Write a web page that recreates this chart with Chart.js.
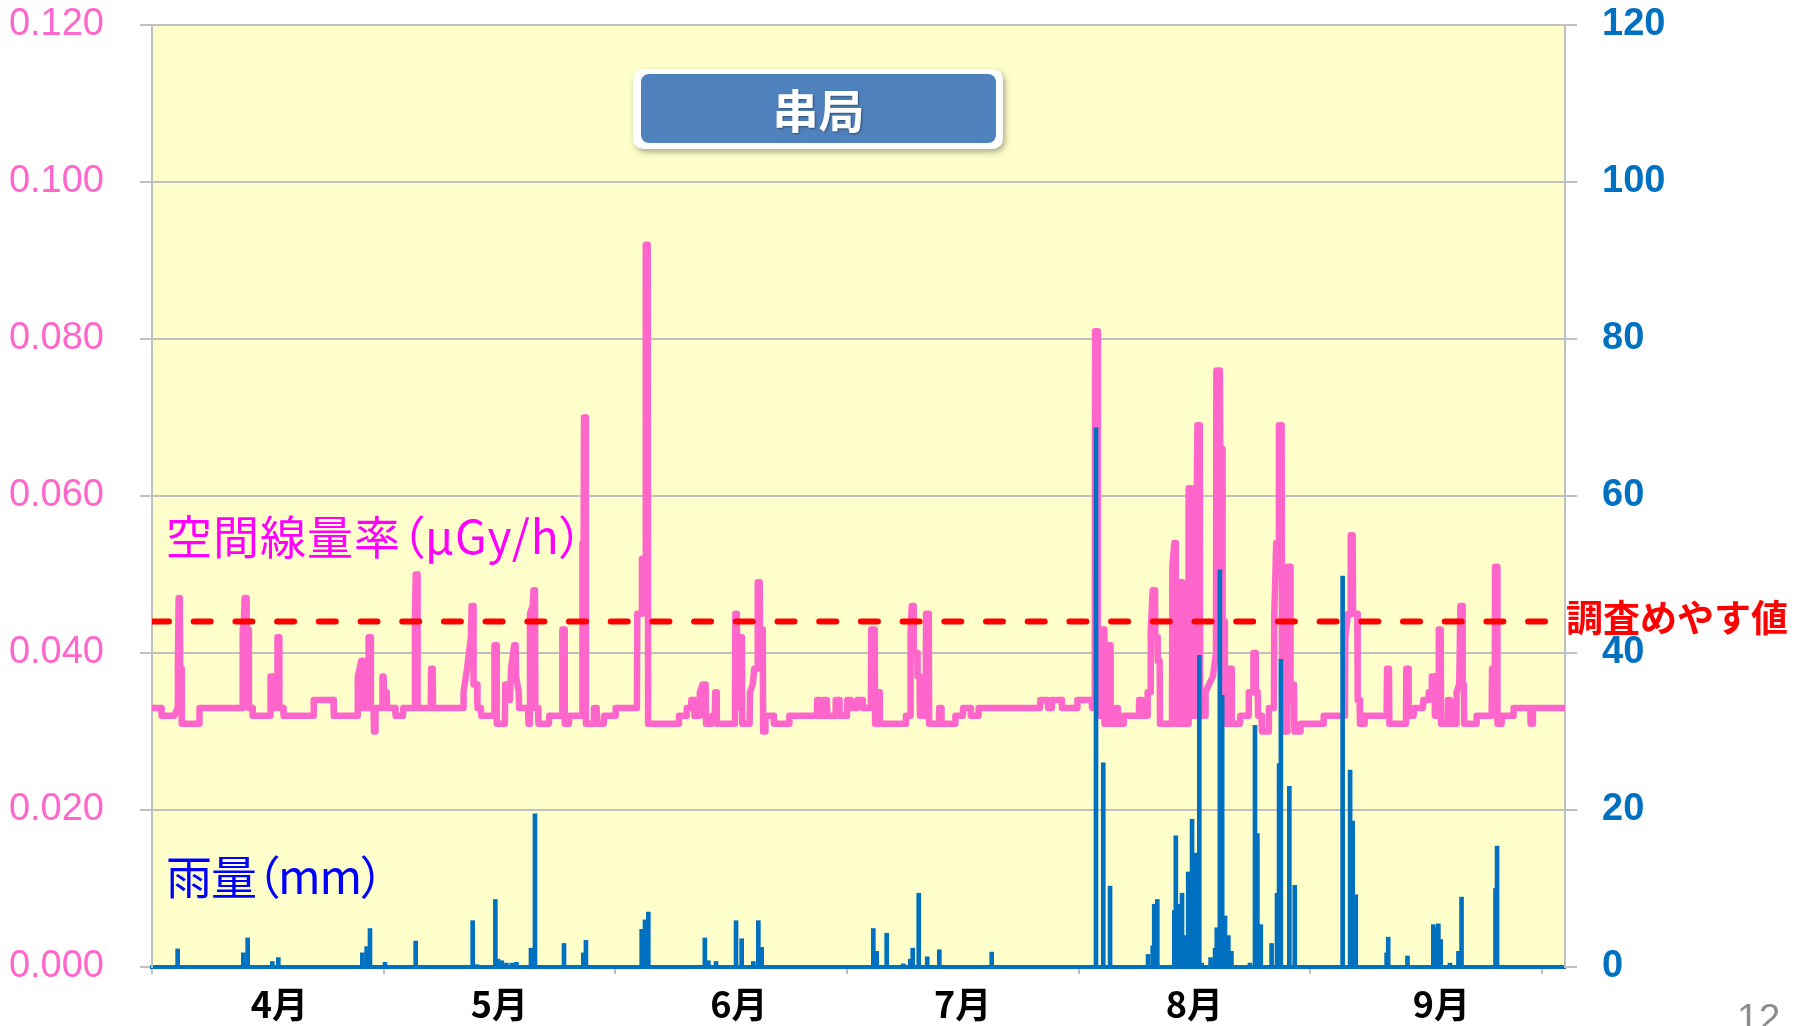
<!DOCTYPE html>
<html>
<head>
<meta charset="utf-8">
<script src="https://cdn.jsdelivr.net/npm/chart.js@4.4.1/dist/chart.umd.min.js"></script>
<style>
  html, body { margin: 0; padding: 0; background: #fff; }
  #wrap { position: relative; width: 1796px; height: 1026px; overflow: hidden; }
  #chart { position: absolute; left: 0; top: 0; }
  .lbl { position: absolute; white-space: nowrap; line-height: 1; font-family: "Noto Sans CJK JP", sans-serif; }
  #titleOuter { position: absolute; left: 633px; top: 69px; width: 370px; height: 80px; background: #fff;
    border-radius: 10px; box-shadow: 2px 3px 6px rgba(0,0,0,0.35); }
  #titleInner { position: absolute; left: 641px; top: 74px; width: 355px; height: 69px; background: #4f81bd;
    border-radius: 8px; color: #fff; font: bold 46px "Noto Sans CJK JP", sans-serif; line-height: 69px; text-align: center;
    text-shadow: 1px 1px 2px rgba(0,0,0,0.4); }
</style>
</head>
<body>
<div id="wrap">
  <canvas id="chart" width="1796" height="1026"></canvas>
  <div id="titleOuter"></div>
  <div id="titleInner">串局</div>
  <div class="lbl" style="left:166px; top:511px; font-size:46px; letter-spacing:1px; color:#ff00ff; font-feature-settings:'palt';">空間線量率（μGy/h）</div>
  <div class="lbl" style="left:166px; top:851px; font-size:46px; letter-spacing:-1px; color:#0000ff; font-feature-settings:'palt';">雨量（mm）</div>
  <div class="lbl" style="left:1566px; top:598px; font-size:37px; font-weight:bold; color:#ff0000;">調査めやす値</div>
  <div class="lbl" style="left:1737px; top:998px; font-size:39px; color:#8c8c8c; font-family:'Liberation Sans', sans-serif;">12</div>
</div>
<script>
// ===== DATA =====
// x = days since 1 April, hourly steps
const doseDays = [
  0, 1.2, 1.25, 2.9, 3.3, 3.35, 3.45, 3.6, 3.65, 3.8, 3.85, 6.1, 6.15, 11.7, 11.75, 11.9, 12.0, 12.2,
  12.25, 12.5, 12.55, 13.0, 13.05, 15.3, 15.35, 15.6, 15.65, 16.2, 16.25, 16.45, 16.5, 17.0, 17.05, 20.9,
  20.95, 23.5, 23.55, 26.6, 26.65, 27.1, 27.3, 27.35, 28.0, 28.05, 28.3, 28.35, 28.7, 28.75, 28.9, 28.95,
  29.8, 29.85, 30.0, 30.05, 30.4, 30.45, 31.5, 31.55, 32.5, 32.55, 34.0, 34.05, 34.15, 34.35, 34.4, 36.1,
  36.15, 36.35, 36.4, 40.3, 40.35, 40.8, 41.3, 41.4, 41.6, 41.65, 42.1, 42.15, 42.6, 42.65, 44.3, 44.35,
  44.6, 44.65, 45.7, 45.75, 46.3, 46.35, 46.5, 46.9, 47.1, 47.15, 47.5, 47.55, 48.7, 48.75, 48.9, 48.95,
  49.3, 49.4, 49.6, 49.65, 50.0, 50.05, 51.4, 51.45, 53.1, 53.15, 53.4, 53.45, 54.0, 54.05, 55.7, 55.75,
  55.9, 55.95, 56.15, 56.2, 57.2, 57.25, 57.6, 57.65, 58.5, 58.55, 60.0, 60.05, 62.8, 62.85, 63.4, 63.45,
  63.9, 63.95, 64.2, 64.25, 68.2, 68.25, 69.2, 69.25, 69.8, 69.85, 70.2, 70.25, 70.9, 70.95, 71.3, 71.7,
  71.75, 72.5, 72.55, 72.9, 72.95, 73.1, 73.15, 75.5, 75.55, 75.75, 75.8, 76.1, 76.15, 76.4, 76.45, 77.4,
  77.45, 77.8, 78.0, 78.4, 78.45, 78.7, 78.75, 79.1, 79.15, 79.4, 79.45, 80.5, 80.55, 82.5, 82.55, 86.1,
  86.15, 86.5, 86.55, 87.0, 87.05, 87.4, 87.45, 88.5, 88.55, 89.0, 89.05, 90.0, 90.05, 90.5, 90.55, 91.3,
  91.35, 92.0, 92.05, 93.1, 93.15, 93.6, 93.65, 94.0, 94.05, 94.2, 94.25, 97.6, 97.65, 98.2, 98.25, 98.4,
  98.6, 98.65, 99.1, 99.15, 99.4, 99.45, 100.2, 100.25, 100.6, 100.65, 101.9, 101.95, 102.2, 102.25, 104.0, 104.05,
  105.0, 105.05, 106.0, 106.05, 107.0, 107.05, 115.0, 115.05, 116.0, 116.05, 116.5, 116.55, 117.8, 117.85, 119.8, 119.85,
  121.7, 121.75, 122.1, 122.15, 122.45, 122.5, 123.0, 123.05, 123.3, 123.35, 123.8, 123.85, 124.1, 124.15, 124.8, 124.85,
  125.1, 125.15, 125.8, 125.85, 127.8, 127.85, 128.2, 128.25, 128.9, 128.95, 129.3, 129.35, 129.6, 129.9, 129.95, 130.2,
  130.25, 130.5, 130.55, 132.1, 132.15, 132.4, 132.6, 132.65, 133.1, 133.15, 133.4, 133.45, 134.2, 134.25, 134.6, 134.65,
  135.2, 135.25, 135.4, 135.7, 135.75, 136.4, 136.45, 136.9, 137.4, 137.8, 137.85, 138.3, 138.35, 138.6, 138.65, 138.9,
  138.95, 139.5, 139.55, 139.8, 139.85, 140.9, 140.95, 142.0, 142.05, 142.6, 142.65, 142.9, 142.95, 143.2, 143.25, 143.7,
  143.75, 144.6, 144.65, 145.3, 145.35, 145.6, 145.9, 145.95, 146.3, 146.35, 146.6, 146.65, 147.0, 147.05, 147.4, 147.45,
  147.7, 147.9, 147.95, 148.7, 148.75, 151.7, 151.75, 154.5, 154.55, 154.9, 155.2, 155.25, 155.5, 155.55, 156.1, 156.15,
  156.4, 156.45, 157.0, 157.05, 159.9, 159.95, 160.2, 160.25, 162.4, 162.45, 162.7, 162.75, 163.4, 163.45, 164.6, 164.65,
  165.3, 165.35, 165.7, 165.75, 166.1, 166.15, 166.6, 166.65, 166.9, 166.95, 167.8, 167.85, 168.1, 168.15, 168.9, 168.95,
  169.3, 169.45, 169.7, 169.75, 169.9, 169.95, 171.5, 171.55, 173.5, 173.55, 173.9, 173.95, 174.2, 174.25, 174.8, 174.85,
  176.3, 176.35, 178.5, 178.55, 178.8, 178.85, 183.0
];
const doseValues = [
  0.033, 0.033, 0.032, 0.032, 0.033, 0.038, 0.047, 0.047, 0.038, 0.038, 0.031, 0.031, 0.033, 0.033, 0.043, 0.044, 0.047, 0.047,
  0.043, 0.043, 0.033, 0.033, 0.032, 0.032, 0.037, 0.037, 0.033, 0.033, 0.042, 0.042, 0.033, 0.033, 0.032, 0.032,
  0.034, 0.034, 0.032, 0.032, 0.037, 0.039, 0.039, 0.033, 0.033, 0.042, 0.042, 0.033, 0.033, 0.030, 0.030, 0.033,
  0.033, 0.037, 0.037, 0.034, 0.035, 0.033, 0.033, 0.032, 0.032, 0.033, 0.033, 0.044, 0.050, 0.050, 0.033, 0.033,
  0.038, 0.038, 0.033, 0.033, 0.035, 0.038, 0.042, 0.046, 0.046, 0.036, 0.036, 0.033, 0.033, 0.032, 0.032, 0.041,
  0.041, 0.031, 0.031, 0.036, 0.036, 0.034, 0.038, 0.041, 0.041, 0.037, 0.035, 0.033, 0.033, 0.031, 0.031, 0.045,
  0.046, 0.048, 0.048, 0.033, 0.033, 0.031, 0.031, 0.032, 0.032, 0.043, 0.043, 0.031, 0.031, 0.032, 0.032, 0.054,
  0.054, 0.070, 0.070, 0.031, 0.031, 0.033, 0.033, 0.031, 0.031, 0.032, 0.032, 0.033, 0.033, 0.045, 0.045, 0.052,
  0.052, 0.092, 0.092, 0.031, 0.031, 0.032, 0.032, 0.033, 0.033, 0.034, 0.034, 0.032, 0.032, 0.035, 0.036, 0.036,
  0.031, 0.031, 0.032, 0.032, 0.035, 0.035, 0.031, 0.031, 0.045, 0.045, 0.033, 0.036, 0.042, 0.042, 0.031, 0.031,
  0.035, 0.036, 0.038, 0.038, 0.049, 0.049, 0.043, 0.043, 0.030, 0.030, 0.032, 0.032, 0.031, 0.031, 0.032, 0.032,
  0.034, 0.034, 0.032, 0.032, 0.034, 0.034, 0.032, 0.032, 0.034, 0.034, 0.032, 0.032, 0.034, 0.034, 0.033, 0.033,
  0.034, 0.034, 0.033, 0.033, 0.043, 0.043, 0.031, 0.031, 0.035, 0.035, 0.031, 0.031, 0.032, 0.032, 0.043, 0.046,
  0.046, 0.040, 0.040, 0.037, 0.037, 0.032, 0.032, 0.045, 0.045, 0.031, 0.031, 0.033, 0.033, 0.031, 0.031, 0.032,
  0.032, 0.033, 0.033, 0.032, 0.032, 0.033, 0.033, 0.034, 0.034, 0.033, 0.033, 0.034, 0.034, 0.033, 0.033, 0.034,
  0.034, 0.033, 0.033, 0.081, 0.081, 0.032, 0.032, 0.043, 0.043, 0.031, 0.031, 0.041, 0.041, 0.031, 0.031, 0.033,
  0.033, 0.031, 0.031, 0.032, 0.032, 0.034, 0.034, 0.032, 0.032, 0.035, 0.035, 0.043, 0.048, 0.048, 0.042, 0.042,
  0.039, 0.039, 0.031, 0.031, 0.051, 0.054, 0.054, 0.031, 0.031, 0.049, 0.049, 0.031, 0.031, 0.061, 0.061, 0.032,
  0.032, 0.055, 0.069, 0.069, 0.032, 0.032, 0.035, 0.036, 0.037, 0.040, 0.076, 0.076, 0.066, 0.066, 0.044, 0.044,
  0.031, 0.031, 0.038, 0.038, 0.031, 0.031, 0.032, 0.032, 0.035, 0.035, 0.040, 0.040, 0.035, 0.035, 0.032, 0.032,
  0.030, 0.030, 0.033, 0.033, 0.045, 0.054, 0.054, 0.069, 0.069, 0.039, 0.039, 0.030, 0.030, 0.051, 0.051, 0.034,
  0.036, 0.036, 0.030, 0.030, 0.031, 0.031, 0.032, 0.032, 0.042, 0.045, 0.045, 0.055, 0.055, 0.045, 0.045, 0.034,
  0.034, 0.031, 0.031, 0.032, 0.032, 0.038, 0.038, 0.031, 0.031, 0.038, 0.038, 0.032, 0.032, 0.033, 0.033, 0.034,
  0.034, 0.035, 0.035, 0.037, 0.037, 0.032, 0.032, 0.043, 0.043, 0.031, 0.031, 0.034, 0.034, 0.031, 0.031, 0.035,
  0.036, 0.046, 0.046, 0.036, 0.036, 0.031, 0.031, 0.032, 0.032, 0.038, 0.038, 0.051, 0.051, 0.031, 0.031, 0.032,
  0.032, 0.033, 0.033, 0.031, 0.031, 0.033, 0.033
];

const rainDays = [
  3.32, 11.83, 12.39, 15.58, 16.36, 27.24, 27.8, 28.23, 30.18, 34.15, 36.4, 41.53, 42.05, 44.47, 44.8, 45.3,
  45.9, 46.6, 47.2, 49.08, 49.6, 53.36, 55.86, 56.2, 63.42, 63.85, 64.28, 71.6, 72.06, 73.05, 75.64, 76.37,
  77.88, 78.53, 78.96, 93.42, 93.86, 95.15, 97.3, 98.2, 98.52, 99.3, 100.4, 101.97, 108.75, 122.26, 123.2, 124.08,
  129.0, 129.6, 129.8, 130.2, 132.4, 132.6, 133.05, 133.4, 133.65, 134.2, 134.7, 135.08, 135.3, 135.64, 135.94, 137.1,
  137.68, 137.9, 138.3, 138.6, 138.97, 139.4, 139.8, 142.2, 142.85, 143.16, 143.6, 145.0, 145.7, 145.97, 146.2, 147.3,
  148.0, 154.2, 155.17, 155.5, 155.9, 159.9, 160.1, 162.6, 165.95, 166.3, 166.6, 166.9, 168.1, 169.2, 169.6, 174.0,
  174.2
];
const rainMm = [
  2.3, 1.8, 3.7, 0.7, 1.2, 1.8, 2.6, 4.9, 0.6, 3.3, 0.2, 5.9, 0.3, 8.6, 1.0, 0.8,
  0.5, 0.5, 0.6, 2.4, 19.5, 3.0, 1.8, 3.4, 4.8, 6.0, 7.0, 3.7, 0.8, 0.7, 5.9, 3.6,
  0.7, 5.9, 2.5, 4.9, 2.0, 4.3, 0.4, 1.0, 2.4, 9.4, 1.3, 2.2, 1.9, 68.7, 26.0, 10.3,
  1.6, 2.7, 8.0, 8.6, 7.2, 16.7, 8.0, 9.4, 4.0, 12.1, 18.8, 14.5, 3.7, 39.7, 0.5, 1.2,
  2.4, 5.0, 50.6, 34.6, 6.5, 4.0, 2.0, 0.5, 30.8, 17.0, 5.4, 3.0, 9.4, 25.9, 39.2, 23.0,
  10.4, 49.8, 25.1, 18.6, 9.2, 1.8, 3.8, 1.4, 5.4, 5.0, 5.5, 3.5, 0.5, 2.0, 8.9, 10.0,
  15.4
];

const guideLevel = 0.044;              // 調査めやす値
const dayMin = 0;
const dayMax = 183;
const gridTickDays = [0, 30, 60, 90, 120, 150, 180];
const monthDays = [16.5, 45, 76, 105, 135, 167];
const monthLabels = ["4月", "5月", "6月", "7月", "8月", "9月"];
const doseTicks = [0, 0.02, 0.04, 0.06, 0.08, 0.1, 0.12];
const rainTicks = [0, 20, 40, 60, 80, 100, 120];

// ===== COLORS =====
const PINK = "#ff66cc";
const BLUE = "#0070c0";
const GRID = "#c0c0c0";

// ===== PLUGINS =====
const plotBackground = {
  id: "plotBackground",
  beforeDraw(chart) {
    const { ctx, chartArea: a } = chart;
    ctx.save();
    ctx.fillStyle = "#ffffff";
    ctx.fillRect(0, 0, chart.width, chart.height);
    ctx.fillStyle = "#ffffcc";
    ctx.fillRect(a.left, a.top, a.right - a.left, a.bottom - a.top);
    ctx.restore();
  },
};

// vertical axes: keep tick padding from pushing the plot area down
function fitVertical(width) {
  return (s) => {
    s.width = width;
    s.paddingTop = 0;
    s.paddingBottom = 0;
  };
}

// ===== CHART =====
new Chart(document.getElementById("chart").getContext("2d"), {
  type: "line",
  data: {
    datasets: [
      {
        type: "bar",
        label: "雨量",
        data: rainDays.map((d, i) => ({ x: d, y: rainMm[i] })),
        xAxisID: "x",
        yAxisID: "y1",
        backgroundColor: BLUE,
        barThickness: 4,
        order: 0,
      },
      {
        label: "調査めやす値",
        data: [
          { x: dayMin, y: guideLevel },
          { x: dayMax, y: guideLevel },
        ],
        xAxisID: "x",
        yAxisID: "y",
        borderColor: "#ff0000",
        borderWidth: 6,
        borderDash: [17, 24.7],
        borderCapStyle: "round",
        pointRadius: 0,
        order: 1,
      },
      {
        label: "空間線量率",
        data: doseDays.map((d, i) => ({ x: d, y: doseValues[i] })),
        xAxisID: "x",
        yAxisID: "y",
        borderColor: PINK,
        borderWidth: 6.5,
        borderJoinStyle: "round",
        borderCapStyle: "round",
        pointRadius: 0,
        tension: 0,
        order: 2,
      },
    ],
  },
  options: {
    responsive: false,
    animation: false,
    layout: { padding: { top: 25, right: 0, bottom: 0, left: 0 } },
    plugins: {
      legend: { display: false },
      tooltip: { enabled: false },
    },
    scales: {
      x: {
        type: "linear",
        position: "bottom",
        min: dayMin,
        max: dayMax,
        offset: false,
        afterBuildTicks: (s) => { s.ticks = gridTickDays.map((v) => ({ value: v })); },
        ticks: { display: false },
        grid: { drawOnChartArea: false, drawTicks: true, tickLength: 7, color: GRID, lineWidth: 2, offset: false },
        border: { color: BLUE, width: 4 },
        afterFit: (s) => { s.height = 7; },
      },
      xMonth: {
        type: "linear",
        position: "bottom",
        min: dayMin,
        max: dayMax,
        offset: false,
        afterBuildTicks: (s) => { s.ticks = monthDays.map((v) => ({ value: v })); },
        ticks: {
          callback: (v, i) => monthLabels[i],
          color: "#000000",
          font: { family: "'Noto Sans CJK JP', sans-serif", size: 36, weight: "bold" },
          padding: 9,
          maxRotation: 0,
          autoSkip: false,
        },
        grid: { display: false, drawTicks: false },
        border: { display: false },
        afterFit: (s) => { s.height = 52; },
      },
      y: {
        type: "linear",
        position: "left",
        min: 0,
        max: 0.12,
        afterBuildTicks: (s) => { s.ticks = doseTicks.map((v) => ({ value: v })); },
        ticks: {
          callback: (v) => v.toFixed(3),
          color: PINK,
          font: { family: "'Liberation Sans', sans-serif", size: 38 },
          padding: 36,
        },
        grid: { color: GRID, lineWidth: 2, tickLength: 12 },
        border: { color: GRID, width: 2 },
        afterFit: fitVertical(152),
      },
      y1: {
        type: "linear",
        position: "right",
        min: 0,
        max: 120,
        afterBuildTicks: (s) => { s.ticks = rainTicks.map((v) => ({ value: v })); },
        ticks: {
          color: BLUE,
          font: { family: "'Liberation Sans', sans-serif", size: 38, weight: "bold" },
          padding: 25,
        },
        grid: { drawOnChartArea: false, color: GRID, lineWidth: 2, tickLength: 12 },
        border: { color: GRID, width: 2 },
        afterFit: fitVertical(231),
      },
    },
  },
  plugins: [plotBackground],
});
</script>
</body>
</html>
